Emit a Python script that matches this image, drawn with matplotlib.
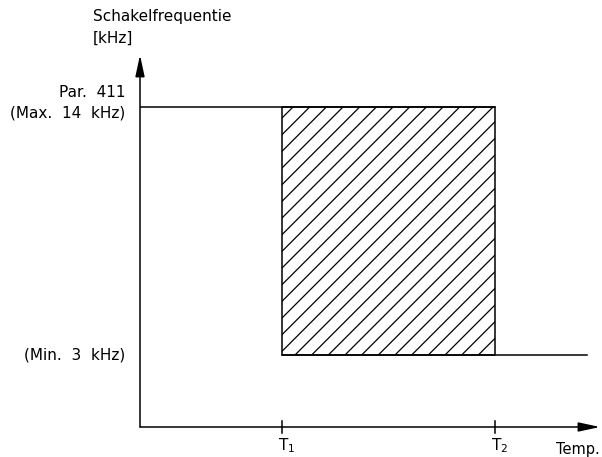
import matplotlib.pyplot as plt
import matplotlib as mpl

# waarden uit de figuur (schematisch)
t1 = 2.0
t2 = 5.0
t_eind = 6.3
f_max = 14
f_min = 3
tick_labels = ['T$_1$', 'T$_2$']
y_labels = ['Par.  411\n(Max.  14  kHz)', '(Min.  3  kHz)']

mpl.rcParams['font.family'] = 'DejaVu Sans'
mpl.rcParams['hatch.linewidth'] = 0.9

fig = plt.figure(figsize=(6.02, 4.57), dpi=100)
ax = fig.add_axes([140 / 602, 30 / 457, 460 / 602, 372 / 457])
ax.set_xlim(0, 6.48)
ax.set_ylim(-0.19, 16.3)
ax.axis('off')

pijl = dict(arrowstyle='-|>,head_length=1.3,head_width=0.28', color='black',
            lw=1.1, mutation_scale=10, shrinkA=0, shrinkB=0)
ax.annotate('', xy=(1, 0), xytext=(0, 0), xycoords='axes fraction', arrowprops=pijl)
ax.annotate('', xy=(0, 1), xytext=(0, 0), xycoords='axes fraction', arrowprops=pijl)

# lijnen
ax.plot([0, t2], [f_max, f_max], color='black', lw=1.1)
ax.plot([t1, t_eind], [f_min, f_min], color='black', lw=1.1)
ax.fill_between([t1, t2], f_min, f_max, facecolor='white', edgecolor='black',
                hatch='//', lw=1.1)

# tijdmarkeringen
y0 = ax.get_ylim()[0]
for t, lab in zip([t1, t2], tick_labels):
    ax.plot([t, t], [y0 - 0.27, y0 + 0.27], color='black', lw=1.1, clip_on=False)
    ax.text(t + 0.07, y0 - 0.4, lab, ha='center', va='top', fontsize=11)

ax.text(6.48, y0 - 0.65, 'Temp.', ha='right', va='top', fontsize=10.5)

# y-labels
ax.text(-0.21, f_max + 0.2, y_labels[0], ha='right', va='center', fontsize=11,
        multialignment='right', linespacing=1.45)
ax.text(-0.21, f_min, y_labels[1], ha='right', va='center', fontsize=11)

fig.text(93 / 602, 1 - 17 / 457, 'Schakelfrequentie', ha='left', va='center', fontsize=11)
fig.text(93 / 602, 1 - 38 / 457, '[kHz]', ha='left', va='center', fontsize=11)

fig.savefig('out.png', dpi=100)
